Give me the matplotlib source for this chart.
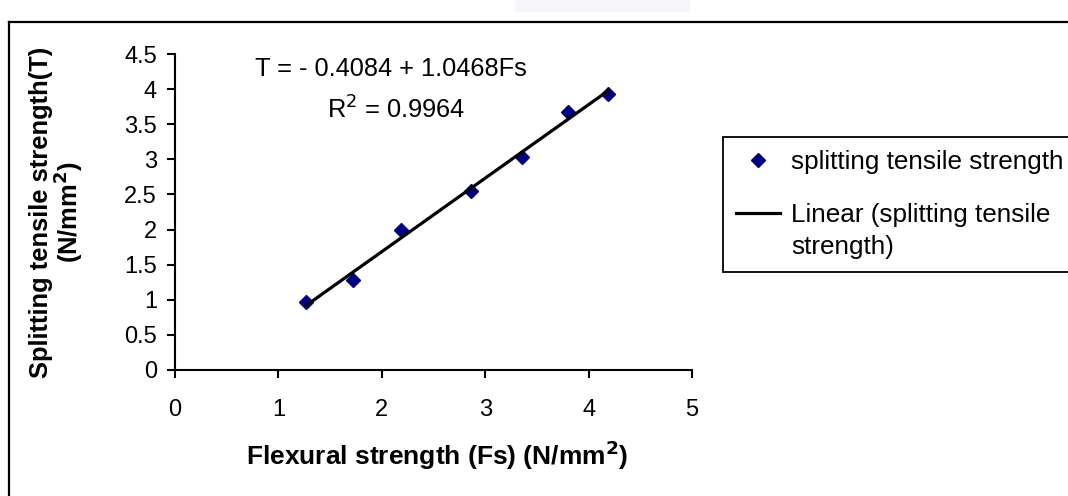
import matplotlib.pyplot as plt
from matplotlib.lines import Line2D
from matplotlib.patches import Rectangle
from matplotlib.ticker import FormatStrFormatter

plt.rcParams['font.family'] = ['Liberation Sans', 'DejaVu Sans']

# flexural strength vs splitting tensile strength (N/mm2)
flexural = [1.27, 1.72, 2.19, 2.86, 3.36, 3.80, 4.19]
tensile = [0.97, 1.28, 2.00, 2.55, 3.04, 3.67, 3.93]

# linear trend coefficients
intercept = -0.4084
slope = 1.0468
r_squared = 0.9964

x_ticks = [0, 1, 2, 3, 4, 5]
y_ticks = [0, 0.5, 1, 1.5, 2, 2.5, 3, 3.5, 4, 4.5]

W, H = 1068, 496
fig = plt.figure(figsize=(W / 100, H / 100), dpi=100)
ax = fig.add_axes([175 / W, 1 - 370 / H, (692 - 175) / W, (370 - 54) / H])

ax.plot(flexural, tensile, linestyle='none', marker='D', markersize=7.2,
        color='#000080', label='splitting tensile strength')

x_fit = [min(flexural), max(flexural)]
y_fit = [intercept + slope * v for v in x_fit]
ax.plot(x_fit, y_fit, color='black', linewidth=2.3,
        label='Linear (splitting tensile\nstrength)')

ax.set_xlim(0, 5)
ax.set_ylim(0, 4.5)
ax.set_xticks(x_ticks)
ax.set_yticks(y_ticks)
ax.yaxis.set_major_formatter(FormatStrFormatter('%g'))

for side in ['top', 'right']:
    ax.spines[side].set_visible(False)
for side in ['left', 'bottom']:
    ax.spines[side].set_linewidth(1.5)
ax.tick_params(axis='x', direction='out', length=6, width=1.5, pad=15, labelsize=17)
ax.tick_params(axis='y', direction='out', length=6, width=1.5, pad=7, labelsize=17)

sign = '-' if intercept < 0 else '+'
ax.text(0.418, 0.952, f'T = {sign} {abs(intercept):.4f} + {slope:.4f}Fs',
        transform=ax.transAxes, ha='center', va='center', fontsize=18.3)
ax.text(0.427, 0.822, f'R$^2$ = {r_squared:.4f}',
        transform=ax.transAxes, ha='center', va='center', fontsize=18.3)

ax.set_xlabel('Flexural strength (Fs) (N/mm$^\\mathbf{2}$)', fontsize=19,
              fontweight='bold', va='center')
ax.xaxis.set_label_coords(0.507, -0.269)
ax.set_ylabel('Splitting tensile strength(T)\n(N/mm$^\\mathbf{2}$)', fontsize=18.4,
              fontweight='bold', va='center', linespacing=0.95)
ax.yaxis.set_label_coords(-0.228, 0.5)

leg = fig.legend(loc='upper left', bbox_to_anchor=(723 / W, 1 - 137 / H),
                 bbox_transform=fig.transFigure, borderaxespad=0, fontsize=18.8,
                 numpoints=1, fancybox=False, framealpha=1, edgecolor='black',
                 handlelength=1.7, handletextpad=0.4, borderpad=0.5,
                 labelspacing=1.1)
leg.get_frame().set_linewidth(1.3)
leg.get_texts()[1].set_linespacing(1.45)
# keep the trend handle level with the first line of its label
trend_handle = leg.legend_handles[1]
trend_handle.set_ydata([y + 13 for y in trend_handle.get_ydata()])

# chart area border (runs off the right and bottom edges)
fig.add_artist(Line2D([9 / W, 9 / W], [0, 1 - 22 / H], color='black', linewidth=1.6))
fig.add_artist(Line2D([9 / W, 1], [1 - 22 / H, 1 - 22 / H], color='black', linewidth=1.6))

# faint smudge above the border
fig.add_artist(Rectangle((515 / W, 1 - 12 / H), 175 / W, 12 / H,
                         transform=fig.transFigure, facecolor='#e4e4f2',
                         edgecolor='none', alpha=0.35))

fig.savefig('out.png', dpi=100)
